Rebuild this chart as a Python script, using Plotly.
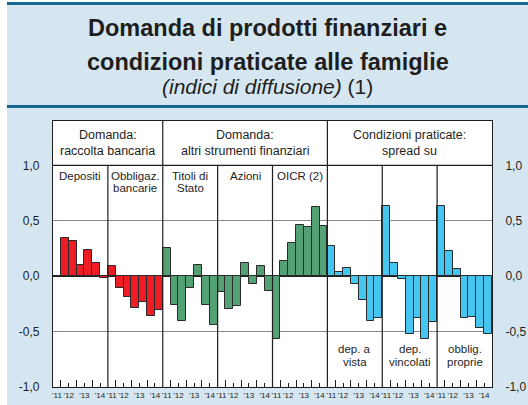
import plotly.graph_objects as go

# Semiannual observations, 2011 H2 ... 2014 H2 (7 per panel)
year_labels = ["'11", "'12", "'13", "'14"]

panel_names = [
    ["Depositi"],
    ["Obbligaz.", "bancarie"],
    ["Titoli di", "Stato"],
    ["Azioni"],
    ["OICR (2)"],
    ["dep. a", "vista"],
    ["dep.", "vincolati"],
    ["obblig.", "proprie"],
]

depositi = [0.0, 0.34, 0.32, 0.105, 0.235, 0.12, -0.015]
obbligaz_bancarie = [0.095, -0.11, -0.185, -0.29, -0.235, -0.355, -0.305]
titoli_stato = [0.25, -0.26, -0.40, -0.105, 0.105, -0.26, -0.445]
azioni = [-0.145, -0.30, -0.27, 0.115, -0.075, 0.095, -0.135]
oicr = [-0.57, 0.14, 0.295, 0.465, 0.445, 0.625, 0.455]
dep_vista = [0.275, 0.04, 0.075, -0.075, -0.215, -0.40, -0.38]
dep_vincolati = [0.63, 0.115, -0.025, -0.525, -0.375, -0.57, -0.41]
obblig_proprie = [0.63, 0.23, 0.065, -0.38, -0.365, -0.47, -0.52]

series = [depositi, obbligaz_bancarie, titoli_stato, azioni, oicr,
          dep_vista, dep_vincolati, obblig_proprie]

group_titles = [
    (["Domanda:", "raccolta bancaria"], 0, 2),
    (["Domanda:", "altri strumenti finanziari"], 2, 5),
    (["Condizioni praticate:", "spread su"], 5, 8),
]

y_ticks = [-1.0, -0.5, 0.0, 0.5, 1.0]
y_ticktext = ["-1,0", "-0,5", "0,0", "0,5", "1,0"]

RED = "#ee1d25"
GREEN = "#55a176"
BLUE = "#45c6f0"
panel_colors = [RED, RED, GREEN, GREEN, GREEN, BLUE, BLUE, BLUE]
label_at_bottom = [False, False, False, False, False, True, True, True]

BG = "#d5e6f0"
RULE = "#17698f"
INK = "#1e1e1e"
FONT = "Liberation Sans, Arial, sans-serif"

n = 7
n_panels = len(series)
x_max = n * n_panels - 0.5

fig = go.Figure()

for p, vals in enumerate(series):
    xs = [p * n + i for i in range(n)]
    fig.add_trace(go.Bar(
        x=xs, y=vals,
        marker=dict(color=panel_colors[p], line=dict(color="#2a2a2a", width=1)),
        showlegend=False, hoverinfo="skip",
    ))

# empty traces so the overlay axes are drawn
fig.add_trace(go.Scatter(x=[], y=[], xaxis="x2", yaxis="y", showlegend=False))
fig.add_trace(go.Scatter(x=[], y=[], xaxis="x", yaxis="y2", showlegend=False))

label_vals, year_ticks, mid_ticks = [], [], []
for p in range(n_panels):
    b = p * n
    label_vals += [b + 0, b + 1.5, b + 3.5, b + 5.5]
    year_ticks += [b + 0.5, b + 2.5, b + 4.5]
    mid_ticks += [b + 1.5, b + 3.5, b + 5.5]

shapes = []
# light backdrop with white outer edge
shapes.append(dict(type="rect", xref="paper", yref="paper",
                   x0=-0.2, x1=(7 - 53) / 439, y0=-0.2, y1=1.6,
                   fillcolor="white", line=dict(width=0), layer="below"))
shapes.append(dict(type="rect", xref="paper", yref="paper",
                   x0=-0.2, x1=1.2, y0=(387 - 2) / 266, y1=1.6,
                   fillcolor="white", line=dict(width=0), layer="below"))
# title rules
for ypx in (3.5, 106.5):
    shapes.append(dict(type="line", xref="paper", yref="paper",
                       x0=(7 - 53) / 439, x1=(528 - 53) / 439,
                       y0=(387 - ypx) / 266, y1=(387 - ypx) / 266,
                       line=dict(color=RULE, width=3)))
# header separator
shapes.append(dict(type="line", xref="paper", yref="y", x0=0, x1=1, y0=1.0, y1=1.0,
                   line=dict(color=INK, width=1.2)))
# panel dividers
group_edges = {g[1] for g in group_titles[1:]}
for p in range(1, n_panels):
    xv = p * n - 0.5
    top = 1.4 if p in group_edges else 1.0
    shapes.append(dict(type="line", xref="x", yref="y", x0=xv, x1=xv, y0=-1.0, y1=top,
                       line=dict(color=INK, width=1.2), layer="above"))

annotations = []
# title block
title_lines = [
    ("<b>Domanda di prodotti finanziari e</b>", 23.5, 28),
    ("<b>condizioni praticate alle famiglie</b>", 23.5, 62),
    ("<i>(indici di diffusione)</i> (1)", 21, 87),
]
for txt, size, ypx in title_lines:
    annotations.append(dict(text=txt, xref="paper", yref="paper",
                            x=(267.5 - 53) / 439, y=(387 - ypx) / 266,
                            xanchor="center", yanchor="middle", showarrow=False,
                            font=dict(size=size, color=INK, family=FONT)))

# group headers
for lines, p0, p1 in group_titles:
    xc = (p0 * n - 0.5 + p1 * n - 0.5) / 2
    for k, (txt, yv) in enumerate(zip(lines, (1.27, 1.128))):
        annotations.append(dict(text=txt, x=xc, y=yv, xref="x", yref="y",
                                showarrow=False, xanchor="center", yanchor="middle",
                                font=dict(size=12.5, color=INK, family=FONT)))

# panel names
for p, lines in enumerate(panel_names):
    xc = p * n + 3
    ys = (-0.657, -0.777) if label_at_bottom[p] else (0.905, 0.795)
    for txt, yv in zip(lines, ys):
        annotations.append(dict(text=txt, x=xc, y=yv, xref="x", yref="y",
                                showarrow=False, xanchor="center", yanchor="middle",
                                font=dict(size=11.5, color=INK, family=FONT)))

fig.update_layout(
    width=528, height=405,
    margin=dict(l=53, r=36, t=121, b=18),
    paper_bgcolor=BG, plot_bgcolor="white",
    bargap=0, barmode="relative",
    font=dict(family=FONT, color=INK),
    shapes=shapes, annotations=annotations,
    xaxis=dict(range=[-0.5, x_max], tickvals=label_vals,
               ticktext=year_labels * n_panels, ticks="", tickangle=0,
               automargin=False,
               tickfont=dict(size=8, color=INK, family=FONT),
               showline=True, mirror=True, linecolor=INK, linewidth=1.3,
               showgrid=False, zeroline=False,
               minor=dict(tickvals=mid_ticks, ticks="inside", ticklen=3.5,
                          tickcolor=INK, tickwidth=1, showgrid=False)),
    xaxis2=dict(range=[-0.5, x_max], overlaying="x", tickvals=year_ticks,
                ticks="inside", ticklen=7, tickcolor=INK, tickwidth=1,
                automargin=False,
                showticklabels=False, showgrid=False, zeroline=False, showline=False),
    yaxis=dict(range=[-1.0, 1.4], tickvals=y_ticks, ticktext=y_ticktext,
               ticks="outside", ticklen=10, tickcolor=BG, automargin=False,
               tickfont=dict(size=12, color=INK, family=FONT),
               showline=True, mirror=True, linecolor=INK, linewidth=1.3,
               showgrid=True, gridcolor="#8a8a8a", gridwidth=1.2,
               zeroline=True, zerolinecolor=INK, zerolinewidth=1.3),
    yaxis2=dict(range=[-1.0, 1.4], overlaying="y", side="right",
                tickvals=y_ticks, ticktext=y_ticktext, automargin=False,
                ticks="outside", ticklen=10, tickcolor=BG,
                tickfont=dict(size=12, color=INK, family=FONT),
                showgrid=False, zeroline=False, showline=False),
)

fig.write_html("out.html")
